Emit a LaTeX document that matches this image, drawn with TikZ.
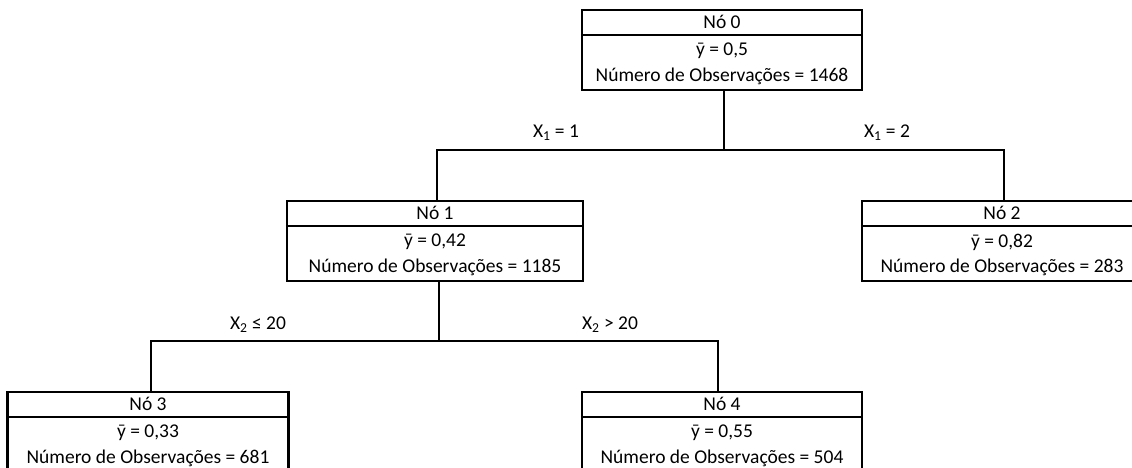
\documentclass[tikz,border=0pt]{standalone}
\usepackage{fontspec}
\setmainfont{Carlito}
\begin{document}
\begin{tikzpicture}[x=1pt,y=1pt,
  every node/.style={font=\fontsize{19.5}{23}\selectfont, inner sep=0pt},
  treebox/.style={draw, line width=2.2pt, minimum height=80pt, anchor=north},
  conn/.style={line width=2.2pt},
  divider/.style={line width=2.2pt}]
\useasboundingbox (0,0) rectangle (1132,-468);
\newcommand{\treenode}[7]{%
  \node[treebox, minimum width=#4] (#1) at (#2,#3) {};
  \draw[divider] ([yshift=-26pt]#1.north west) -- ([yshift=-26pt]#1.north east);
  \node (#1-t) at ([yshift=-13pt]#1.north) {Nó #5};
  \node (#1-m) at ([yshift=-42pt]#1.north) {ȳ = #6};
  \node (#1-c) at ([yshift=-67pt]#1.north) {Número de Observações = #7};
}
\treenode{n0}{722}{-9}{280pt}{0}{0,5}{1468}
\treenode{n1}{435}{-200}{296pt}{1}{0,42}{1185}
\treenode{n2}{1002}{-200}{280pt}{2}{0,82}{283}
\treenode{n3}{148}{-391}{281pt}{3}{0,33}{681}
\treenode{n4}{722}{-391}{280pt}{4}{0,55}{504}
% connectors
\draw[conn] ([xshift=2pt]n0.south) -- ++(0,-59) coordinate (j0);
\draw[conn] ([xshift=2pt]n1.north) |- (j0) -| ([xshift=2pt]n2.north);
\draw[conn] ([xshift=4pt]n1.south) -- ++(0,-59) coordinate (j1);
\draw[conn] ([xshift=3pt]n3.north) |- (j1) -| ([xshift=-4pt]n4.north);
% labels
\node (l1) at (556,-133) {X\textsubscript{1} = 1};
\node (l2) at (887,-133) {X\textsubscript{1} = 2};
\node (l3) at (258,-325) {X\textsubscript{2} ≤ 20};
\node (l4) at (610,-325) {X\textsubscript{2} > 20};
\end{tikzpicture}
\end{document}
